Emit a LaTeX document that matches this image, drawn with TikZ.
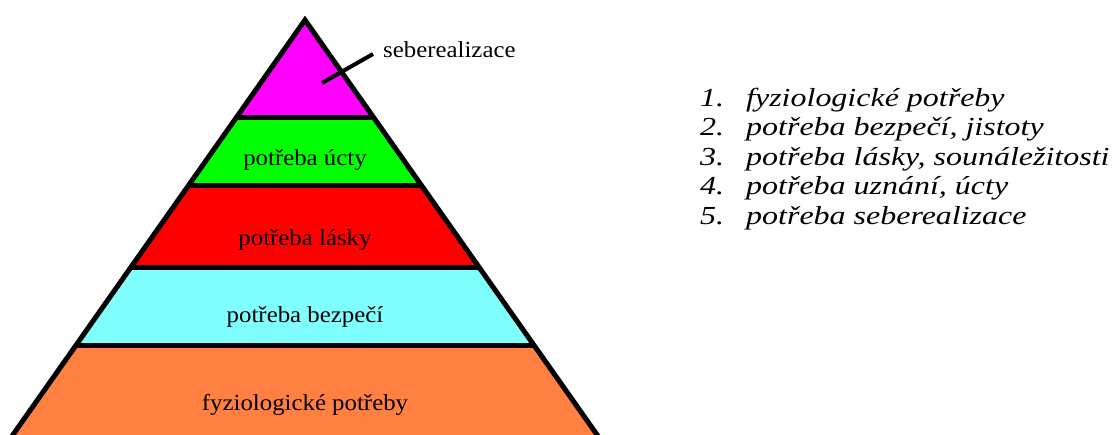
\documentclass[tikz,border=0pt]{standalone}
\usepackage{fontspec}
\setmainfont{Liberation Serif}
\newfontfamily\listfont[FakeStretch=1.23]{Liberation Serif}
\newfontfamily\layerfont[FakeStretch=1.08]{Liberation Serif}
\begin{document}
\begin{tikzpicture}[x=1pt,y=-1pt,
  layertext/.style={font=\layerfont\fontsize{23}{25}\selectfont, inner sep=0pt},
  listtext/.style={font=\listfont\fontsize{26}{30}\selectfont\itshape, inner sep=0pt, anchor=base west},
  edge/.style={line width=5pt, line join=miter}]
\definecolor{cmag}{RGB}{255,0,255}
\definecolor{cgreen}{RGB}{0,255,0}
\definecolor{cred}{RGB}{255,0,0}
\definecolor{ccyan}{RGB}{128,255,255}
\definecolor{corange}{RGB}{255,128,64}
\useasboundingbox (0,0) rectangle (1117,434);
\coordinate (A) at (305,20);
\coordinate (L) at (-2,456);
\coordinate (R) at (612,456);
\begin{scope}
  \clip (A) -- (L) -- (R) -- cycle;
  \fill[cmag] (0,0) rectangle (620,117);
  \fill[cgreen] (0,117) rectangle (620,185);
  \fill[cred] (0,185) rectangle (620,267);
  \fill[ccyan] (0,267) rectangle (620,345);
  \fill[corange] (0,345) rectangle (620,460);
  \draw[line width=5pt] (0,117) -- (620,117) (0,185) -- (620,185) (0,267) -- (620,267) (0,345) -- (620,345);
\end{scope}
\draw[edge] (L) -- (A) -- (R);
\node[layertext] (l4) at (305,160) {potřeba úcty};
\node[layertext] (l3) at (305,240) {potřeba lásky};
\node[layertext] (l2) at (305,317) {potřeba bezpečí};
\node[layertext] (l1) at (305,405) {fyziologické potřeby};
\node[layertext, anchor=west] (l5) at (383,50) {seberealizace};
\coordinate (p5) at (322,83);
\coordinate (q5) at (373,54);
\draw[line width=4pt] (p5) -- (q5);
\foreach \n/\t [count=\i] in {1/fyziologické potřeby,2/{potřeba bezpečí, jistoty},3/{potřeba lásky, sounáležitosti},4/{potřeba uznání, úcty},5/potřeba seberealizace}{
  \node[listtext] (n\i) at (700,{98+(\i-1)*29.6+8}) {\n.};
  \node[listtext] (t\i) at (746,{98+(\i-1)*29.6+8}) {\t};
}
\end{tikzpicture}
\end{document}
